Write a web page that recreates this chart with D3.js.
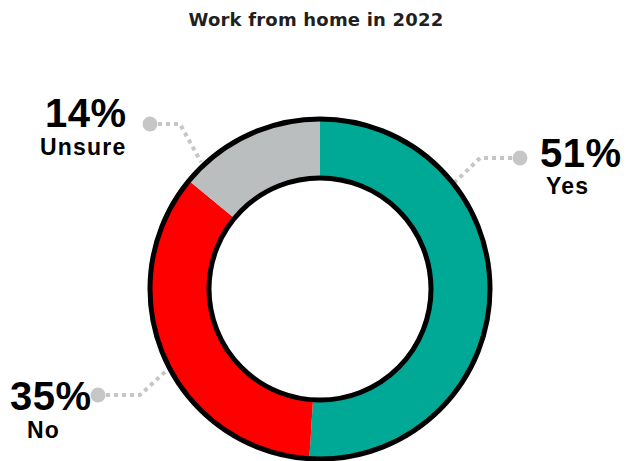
<!DOCTYPE html>
<html>
<head>
<meta charset="utf-8">
<script src="https://cdn.jsdelivr.net/npm/d3@7"></script>
<style>
  html, body { margin: 0; padding: 0; background: #fff; }
  svg { display: block; }
</style>
</head>
<body>
<svg id="chart" width="627" height="461"></svg>
<script>
// Survey answers
const categories = ["Yes", "No", "Unsure"];
const shares = [51, 35, 14];
const valueLabels = ["51%", "35%", "14%"];
const sliceColors = ["#00a996", "#ff0000", "#bbbebf"];

// Callout placement for each answer (dot, elbow, end of leader; text anchors)
const callouts = [
  { dot: [520, 158], elbow: [480, 158], end: [454, 183], value: [540, 167], label: [546, 194] },
  { dot: [98, 395],  elbow: [140, 395], end: [166, 371], value: [10, 410],  label: [27, 438] },
  { dot: [150, 124], elbow: [180, 124], end: [201, 162], value: [45, 127],  label: [40, 155] }
];

const width = 627, height = 461;
const cx = 320, cy = 289;
const outerR = 170, innerR = 111;

const svg = d3.select("#chart");

svg.append("text")
  .attr("x", 316).attr("y", 26)
  .attr("text-anchor", "middle")
  .attr("font-family", "DejaVu Sans, sans-serif")
  .attr("font-weight", "bold")
  .attr("font-size", 18)
  .attr("letter-spacing", 0.2)
  .attr("fill", "#231f20")
  .text("Work from home in 2022");

const data = categories.map((c, i) => ({ category: c, share: shares[i], label: valueLabels[i], color: sliceColors[i], callout: callouts[i] }));

// Leader lines sit underneath the ring
const leaders = svg.append("g");
const line = d3.line();
leaders.selectAll("path")
  .data(data)
  .join("path")
  .attr("d", d => line([d.callout.dot, d.callout.elbow, d.callout.end]))
  .attr("fill", "none")
  .attr("stroke", "#c6c6c6")
  .attr("stroke-width", 4)
  .attr("stroke-dasharray", "4 4");
leaders.selectAll("circle")
  .data(data)
  .join("circle")
  .attr("cx", d => d.callout.dot[0])
  .attr("cy", d => d.callout.dot[1])
  .attr("r", 7.5)
  .attr("fill", "#c6c6c6");

const pie = d3.pie().sort(null).value(d => d.share);
const arc = d3.arc().innerRadius(innerR).outerRadius(outerR);

const ring = svg.append("g").attr("transform", `translate(${cx},${cy})`);
ring.selectAll("path")
  .data(pie(data))
  .join("path")
  .attr("d", arc)
  .attr("fill", d => d.data.color);

ring.append("circle").attr("r", outerR).attr("fill", "none").attr("stroke", "#000").attr("stroke-width", 5);
ring.append("circle").attr("r", innerR).attr("fill", "#fff").attr("stroke", "#000").attr("stroke-width", 5);

// Value and category labels
const labels = svg.append("g").attr("font-family", "Liberation Sans, Arial, sans-serif").attr("font-weight", "bold").attr("fill", "#000");
labels.selectAll("text.value")
  .data(data)
  .join("text")
  .attr("class", "value")
  .attr("x", d => d.callout.value[0])
  .attr("y", d => d.callout.value[1])
  .attr("font-size", 40)
  .attr("letter-spacing", 0.5)
  .text(d => d.label);
labels.selectAll("text.cat")
  .data(data)
  .join("text")
  .attr("class", "cat")
  .attr("x", d => d.callout.label[0])
  .attr("y", d => d.callout.label[1])
  .attr("font-size", 23)
  .attr("letter-spacing", 1.2)
  .text(d => d.category);
</script>
</body>
</html>
